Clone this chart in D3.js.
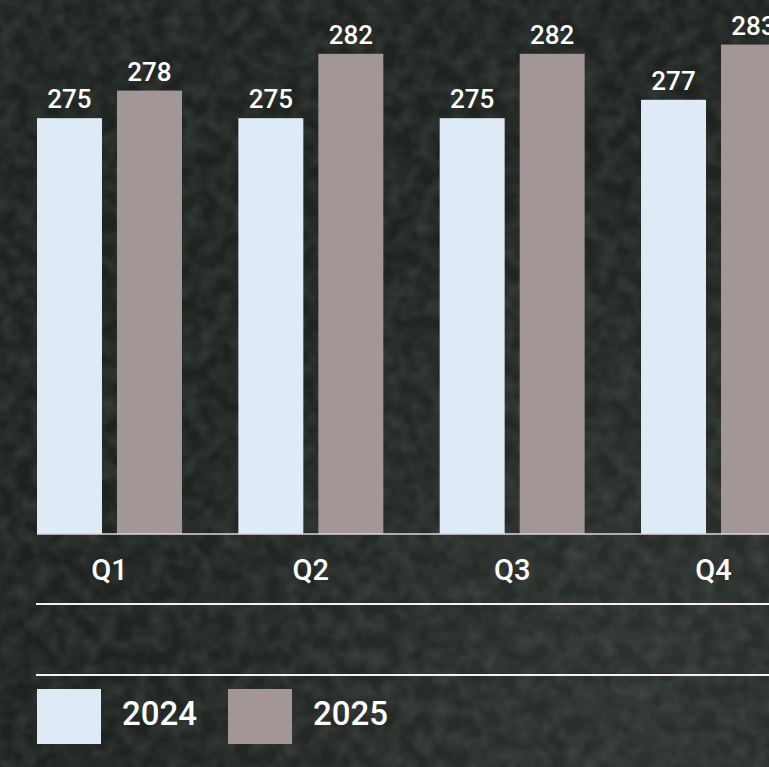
<!DOCTYPE html>
<html>
<head>
<meta charset="utf-8">
<script src="https://cdn.jsdelivr.net/npm/d3@7"></script>
<style>
  html, body { margin: 0; padding: 0; background: #252a27; overflow: hidden; }
  svg { display: block; }
  text { font-family: Roboto, "Noto Sans", sans-serif; fill: #ffffff; font-weight: 500; }
</style>
</head>
<body>
<svg id="chart" width="769" height="767"></svg>
<script>
// Quarterly figures for two years
const quarters = ["Q1", "Q2", "Q3", "Q4"];
const seriesNames = ["2024", "2025"];
const values2024 = [275, 275, 275, 277];
const values2025 = [278, 282, 282, 283];
const seriesColors = ["#deeaf6", "#a39696"];

const W = 769, H = 767;
const baseY = 534;
const svg = d3.select("#chart");

// Chalkboard-style textured backdrop
const defs = svg.append("defs");
const f = defs.append("filter").attr("id", "grain")
  .attr("x", 0).attr("y", 0).attr("width", "100%").attr("height", "100%");
f.append("feTurbulence").attr("type", "fractalNoise")
  .attr("baseFrequency", "0.06").attr("numOctaves", 2).attr("seed", 7).attr("result", "n");
f.append("feColorMatrix").attr("type", "matrix")
  .attr("values", "0 0 0 0 0.36  0 0 0 0 0.40  0 0 0 0 0.38  1.0 0 0 0 -0.3");
const shade = defs.append("radialGradient").attr("id", "shade")
  .attr("cx", "0.85").attr("cy", "0.9").attr("r", "0.7");
shade.append("stop").attr("offset", "0").attr("stop-color", "#3a403b").attr("stop-opacity", 0.5);
shade.append("stop").attr("offset", "1").attr("stop-color", "#3a403b").attr("stop-opacity", 0);

svg.append("rect").attr("width", W).attr("height", H).attr("fill", "#1e2320");
svg.append("rect").attr("width", W).attr("height", H).attr("fill", "url(#shade)");
svg.append("rect").attr("width", W).attr("height", H).attr("filter", "url(#grain)").attr("opacity", 0.3);

// Scales
const x0 = d3.scaleBand().domain(quarters).range([37, 786]).paddingInner(0.28).paddingOuter(0);
const x1 = d3.scaleBand().domain(seriesNames).range([0, x0.bandwidth()]).paddingInner(0.1875).paddingOuter(0);
const y = d3.scaleLinear().domain([229.8, 284.15]).range([baseY, 34]);

const rows = quarters.map((q, i) => ({
  q, vals: [
    { s: seriesNames[0], v: values2024[i], c: seriesColors[0] },
    { s: seriesNames[1], v: values2025[i], c: seriesColors[1] }
  ]
}));

const groups = svg.append("g").selectAll("g").data(rows).join("g")
  .attr("transform", d => `translate(${x0(d.q)},0)`);

groups.selectAll("rect").data(d => d.vals).join("rect")
  .attr("x", d => x1(d.s))
  .attr("y", d => y(d.v))
  .attr("width", x1.bandwidth())
  .attr("height", d => baseY - y(d.v))
  .attr("fill", d => d.c);

groups.selectAll("text.val").data(d => d.vals).join("text")
  .attr("class", "val")
  .attr("x", d => x1(d.s) + x1.bandwidth() / 2)
  .attr("y", d => y(d.v) - 10)
  .attr("text-anchor", "middle")
  .attr("font-size", 26)
  .text(d => d.v);

// Baseline and category labels
const axis = svg.append("g").attr("transform", `translate(0,${baseY})`)
  .call(d3.axisBottom(x0).tickSize(0).tickPadding(0));
axis.select(".domain").remove();
svg.append("line").attr("x1", 37).attr("x2", W).attr("y1", baseY).attr("y2", baseY)
  .attr("stroke", "#d8d8d8").attr("stroke-width", 1.5);
axis.selectAll(".tick text")
  .attr("y", 46).attr("dy", 0)
  .attr("font-size", 29)
  .attr("font-family", "Roboto, 'Noto Sans', sans-serif")
  .attr("font-weight", 500)
  .attr("fill", "#ffffff");

// Divider rules
[604, 675].forEach(yy => {
  svg.append("line").attr("x1", 36).attr("x2", W).attr("y1", yy).attr("y2", yy)
    .attr("stroke", "#f2f2f2").attr("stroke-width", 2);
});

// Legend
const legendX = [37, 228];
const lg = svg.append("g").selectAll("g").data(seriesNames).join("g")
  .attr("transform", (d, i) => `translate(${legendX[i]},689)`);
lg.append("rect").attr("width", 64).attr("height", 55).attr("fill", (d, i) => seriesColors[i]);
lg.append("text").attr("x", 85).attr("y", 36).attr("font-size", 33).text(d => d);
</script>
</body>
</html>
